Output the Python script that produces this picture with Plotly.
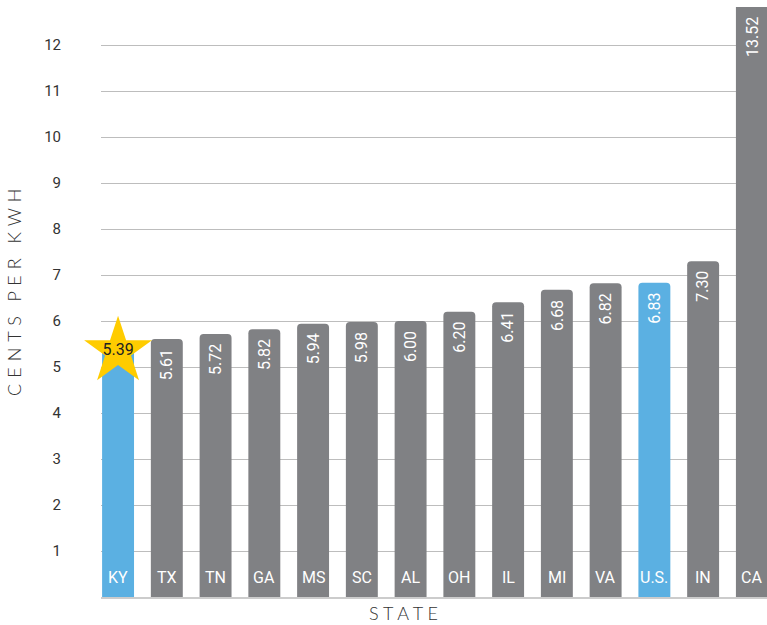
import plotly.graph_objects as go

states = ["KY", "TX", "TN", "GA", "MS", "SC", "AL", "OH", "IL", "MI", "VA", "U.S.", "IN", "CA"]
cents = [5.39, 5.61, 5.72, 5.82, 5.94, 5.98, 6.00, 6.20, 6.41, 6.68, 6.82, 6.83, 7.30, 13.52]
highlight = ["KY", "U.S."]
tick_vals = list(range(1, 13))
value_labels = [f"{v:.2f}" for v in cents]

GREY = "#808184"
BLUE = "#5BB0E2"
GOLD = "#FFCC00"
COND = "Roboto, Liberation Sans, sans-serif"
LIGHT = "Lato, Open Sans, sans-serif"
NB = "\u00a0"
HAIR = "\u200a"

W, H = 767, 625
L, T, B = 101, 7, 28
PLOT_H = H - T - B
YMAX = PLOT_H / 46.0
colors = [BLUE if s in highlight else GREY for s in states]

fig = go.Figure()
fig.add_trace(go.Bar(
    x=states, y=cents, marker=dict(color=colors, cornerradius=4, line=dict(width=0)),
    hoverinfo="x+y", showlegend=False,
))
fig.add_trace(go.Scatter(
    x=[states[0]], y=[cents[0] - 0.05], mode="markers+text",
    marker=dict(symbol="star", size=51, color=GOLD, line=dict(width=0)),
    text=[value_labels[0]], textposition="middle center",
    textfont=dict(family=COND, size=16, color="#222"),
    showlegend=False, cliponaxis=False,
))

annotations = []
for s, v, lab in zip(states, cents, value_labels):
    if s == "KY":
        continue
    annotations.append(dict(
        x=s, y=min(v, YMAX), xref="x", yref="y", text=lab, showarrow=False,
        textangle=-90, yanchor="top", xanchor="center", yshift=-8,
        font=dict(family=COND, size=16, color="white"),
    ))
for s in states:
    annotations.append(dict(
        x=s, y=0, xref="x", yref="y", text=s, showarrow=False,
        yanchor="bottom", xanchor="center", yshift=8,
        font=dict(family=COND, size=16, color="white"),
    ))


def spaced(t, gap, word_gap):
    out = []
    for w_i, word in enumerate(t.split(" ")):
        if w_i:
            out.append(word_gap)
        out.append(gap.join(word))
    return "".join(out)


PW = W - L
annotations.append(dict(
    x=(403 - L) / PW, y=-(613 - (H - B)) / PLOT_H, xref="paper", yref="paper",
    text=spaced("STATE", NB, NB * 3), showarrow=False,
    xanchor="center", yanchor="middle",
    font=dict(family=LIGHT, size=18, color="#333", weight=300),
))
annotations.append(dict(
    x=-(L - 14) / PW, y=((H - B) - 293) / PLOT_H, xref="paper", yref="paper",
    text=spaced("CENTS PER KWH", NB + HAIR, NB * 3), showarrow=False, textangle=-90,
    xanchor="center", yanchor="middle",
    font=dict(family=LIGHT, size=18, color="#333", weight=300),
))

fig.update_layout(
    width=W, height=H,
    margin=dict(l=L, r=0, t=T, b=B, pad=0),
    plot_bgcolor="white", paper_bgcolor="white",
    bargap=0.345,
    annotations=annotations,
    xaxis=dict(range=[-0.35, 13.31], showticklabels=False, showgrid=False,
               showline=True, linecolor="#cccccc", linewidth=2, ticks="", zeroline=False),
    yaxis=dict(range=[0, YMAX], tickvals=tick_vals, showgrid=True, gridcolor="#bdbdbd",
               gridwidth=1, zeroline=False, showline=False, ticks="",
               tickfont=dict(family=COND, size=15, color="#333"), ticklabelstandoff=39),
)
fig.write_html("out.html", config={"displayModeBar": False},
               post_script="document.body.style.margin='0px';")
